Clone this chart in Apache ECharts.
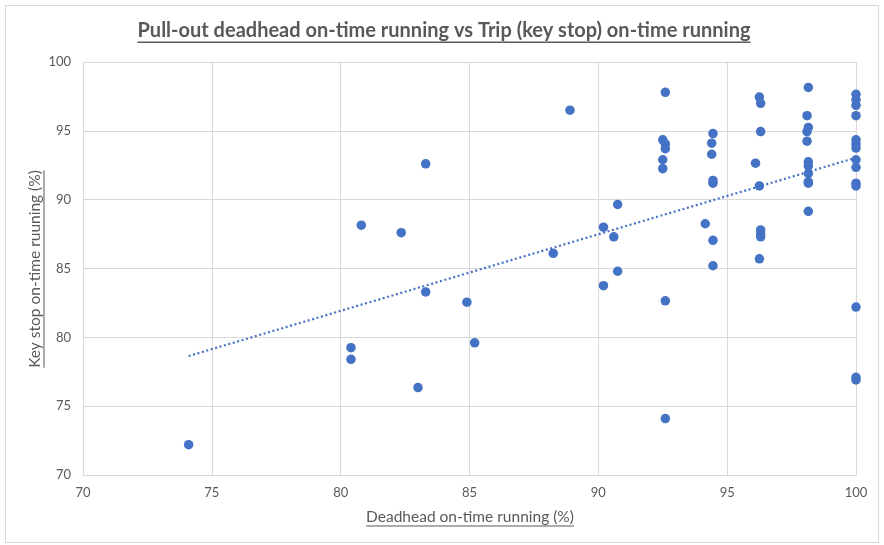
<!DOCTYPE html>
<html>
<head>
<meta charset="utf-8">
<script src="https://cdn.jsdelivr.net/npm/echarts@6/dist/echarts.min.js"></script>
<style>
html,body{margin:0;padding:0;background:#fff;}
#chart{width:884px;height:545px;}
</style>
</head>
<body>
<div id="chart"></div>
<script>
// Data
const deadheadPct = [
  74.1, 80.4, 80.4, 80.8, 82.35, 83.0, 83.3, 83.3, 84.9, 85.2,
  88.25, 88.9, 90.2, 90.2, 90.6, 90.75, 90.75,
  92.5, 92.6, 92.6, 92.5, 92.5, 92.6, 92.6, 92.6,
  94.15, 94.4, 94.4, 94.45, 94.45, 94.45, 94.45, 94.45,
  96.1, 96.25, 96.3, 96.3, 96.25, 96.3, 96.3, 96.3, 96.25,
  98.15, 98.1, 98.15, 98.1, 98.1, 98.15, 98.15, 98.15, 98.15, 98.15, 98.15,
  100, 100, 100, 100, 100, 100, 100, 100, 100, 100, 100, 100, 100, 100
];
const keyStopPct = [
  72.2, 79.25, 78.4, 88.15, 87.6, 76.35, 92.6, 83.3, 82.55, 79.6,
  86.1, 96.5, 88.0, 83.75, 87.3, 89.65, 84.8,
  94.35, 94.05, 93.7, 92.9, 92.25, 97.8, 82.65, 74.1,
  88.25, 94.1, 93.3, 94.8, 91.4, 91.2, 87.05, 85.2,
  92.65, 97.45, 97.0, 94.95, 91.0, 87.8, 87.5, 87.3, 85.7,
  98.15, 96.1, 95.25, 94.95, 94.25, 92.75, 92.45, 91.9, 91.3, 91.2, 89.15,
  97.65, 97.25, 96.85, 96.1, 94.35, 94.05, 93.75, 92.9, 92.35, 91.2, 91.0, 82.2, 77.1, 76.9
];
const xTicks = [70, 75, 80, 85, 90, 95, 100];
const yTicks = [70, 75, 80, 85, 90, 95, 100];
const chartTitle = 'Pull-out deadhead on-time running vs Trip (key stop) on-time running';
const xAxisTitle = 'Deadhead on-time running (%)';
const yAxisTitle = 'Key stop on-time ruuning (%)';

const points = deadheadPct.map((x, i) => [x, keyStopPct[i]]);

// Linear least-squares trendline
const n = points.length;
let sx = 0, sy = 0, sxx = 0, sxy = 0;
points.forEach(([x, y]) => { sx += x; sy += y; sxx += x * x; sxy += x * y; });
const slope = (n * sxy - sx * sy) / (n * sxx - sx * sx);
const intercept = (sy - slope * sx) / n;
const xMin = Math.min(...deadheadPct), xMax = Math.max(...deadheadPct);
const trend = [[xMin, intercept + slope * xMin], [xMax, intercept + slope * xMax]];

const FONT = 'Lato, "Open Sans", sans-serif';
const TEXT_COLOR = '#595959';

function textWidth(str, size, weight) {
  const c = document.createElement('canvas').getContext('2d');
  c.font = (weight || 'normal') + ' ' + size + 'px ' + FONT;
  return c.measureText(str).width;
}

const titleSize = 20, axisTitleSize = 15.5;
const tW = textWidth(chartTitle, titleSize, 'bold');
const xW = textWidth(xAxisTitle, axisTitleSize);
const yW = textWidth(yAxisTitle, axisTitleSize);

const chart = echarts.init(document.getElementById('chart'));
chart.setOption({
  animation: false,
  backgroundColor: '#fff',
  grid: { left: 83, right: 28, top: 62, bottom: 70, containLabel: false },
  xAxis: {
    type: 'value', min: 70, max: 100, interval: 5,
    axisLine: { show: true, lineStyle: { color: '#d9d9d9', width: 1 } },
    axisTick: { show: false },
    splitLine: { show: true, lineStyle: { color: '#d9d9d9', width: 1 } },
    axisLabel: { color: TEXT_COLOR, fontSize: 13, fontFamily: FONT, margin: 11,
      formatter: v => xTicks.includes(v) ? String(v) : '' }
  },
  yAxis: {
    type: 'value', min: 70, max: 100, interval: 5,
    axisLine: { show: true, lineStyle: { color: '#d9d9d9', width: 1 } },
    axisTick: { show: false },
    splitLine: { show: true, lineStyle: { color: '#d9d9d9', width: 1 } },
    axisLabel: { color: TEXT_COLOR, fontSize: 13, fontFamily: FONT, margin: 12,
      formatter: v => yTicks.includes(v) ? String(v) : '' }
  },
  graphic: [
    { type: 'rect', shape: { x: 5.5, y: 5.5, width: 873, height: 537 },
      style: { fill: 'none', stroke: '#d9d9d9', lineWidth: 1 }, silent: true },
    { type: 'text', x: 444, y: 31, style: { text: chartTitle, fill: TEXT_COLOR,
      font: 'bold ' + titleSize + 'px ' + FONT, align: 'center', verticalAlign: 'middle' } },
    { type: 'rect', shape: { x: 444 - tW / 2, y: 41.5, width: tW, height: 1.4 },
      style: { fill: TEXT_COLOR } },
    { type: 'text', x: 470, y: 517, style: { text: xAxisTitle, fill: TEXT_COLOR,
      font: axisTitleSize + 'px ' + FONT, align: 'center', verticalAlign: 'middle' } },
    { type: 'rect', shape: { x: 470 - xW / 2, y: 525.5, width: xW, height: 1 },
      style: { fill: TEXT_COLOR } },
    { type: 'text', x: 35, y: 269, rotation: Math.PI / 2, style: { text: yAxisTitle, fill: TEXT_COLOR,
      font: axisTitleSize + 'px ' + FONT, align: 'center', verticalAlign: 'middle' } },
    { type: 'rect', shape: { x: 43.5, y: 269 - yW / 2, width: 1, height: yW },
      style: { fill: TEXT_COLOR } }
  ],
  series: [
    {
      type: 'scatter', data: points, symbol: 'circle', symbolSize: 9.5,
      itemStyle: { color: '#4472C4', opacity: 1 }, z: 3
    },
    {
      type: 'line', data: trend, symbol: 'none', z: 2,
      lineStyle: { color: '#4472C4', width: 2.2, type: [2, 2.6] }
    }
  ]
});
</script>
</body>
</html>
